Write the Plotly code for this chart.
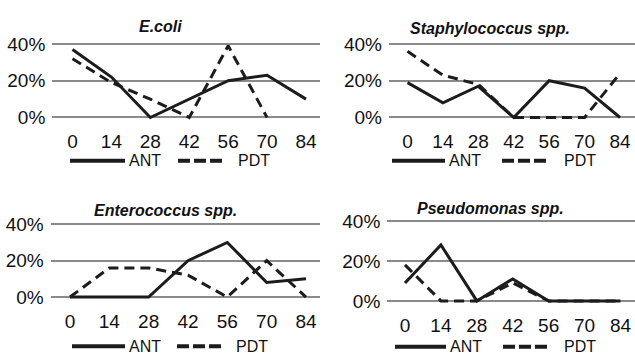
import plotly.graph_objects as go

# ---------------- data ----------------
days = ["0", "14", "28", "42", "56", "70", "84"]
titles = ["E.coli", "Staphylococcus spp.", "Enterococcus spp.", "Pseudomonas spp."]
ecoli_ant = [37, 22, 0, 10, 20, 23, 10]
ecoli_pdt = [32, 19, 10, 0, 39, 0, None]
staph_ant = [19, 8, 17, 0, 20, 16, 0]
staph_pdt = [36, 23, 18, 0, 0, 0, 24]
entero_ant = [0, 0, 0, 20, 30, 8, 10]
entero_pdt = [0, 16, 16, 12, 0, 20, 0]
pseudo_ant = [9, 28, 0, 11, 0, 0, 0]
pseudo_pdt = [18, 0, 0, 9, 0, 0, 0]
series_names = ["ANT", "PDT"]
ytick_vals = [0, 20, 40]
ytick_text = ["0%", "20%", "40%"]

series = [(ecoli_ant, ecoli_pdt), (staph_ant, staph_pdt),
          (entero_ant, entero_pdt), (pseudo_ant, pseudo_pdt)]

# ---------------- layout (pixels) ----------------
W, H = 635, 363
# x0,x1: plot extents; c0,c6: centres of first/last category; y0,y40: pixel rows of 0% and 40%
geo = [
    dict(x0=52.3, x1=320, c0=72.5, c6=306, y0=115.3, y40=39.3, tx=160, ty=21, ly=160,
         lsol=(70, 125), lant=127, ldash=(178, 222), lpdt=236),
    dict(x0=389, x1=635, c0=407.5, c6=620, y0=115.3, y40=39.3, tx=490, ty=23, ly=160,
         lsol=(392, 445), lant=447, ldash=(502, 546), lpdt=562),
    dict(x0=50.7, x1=320, c0=70, c6=306, y0=301, y40=225.7, tx=165, ty=211, ly=352,
         lsol=(72, 125), lant=127, ldash=(177, 222), lpdt=234),
    dict(x0=387.3, x1=635, c0=405, c6=620.5, y0=305, y40=222.3, tx=490, ty=209, ly=352.5,
         lsol=(395, 446), lant=448, ldash=(503, 548), lpdt=562),
]

TXT = "#111111"
LINE = "#1c1c1c"
SANS = "Liberation Sans, Arial, sans-serif"

fig = go.Figure()
shapes, annotations = [], []
ylo, yhi = -2.5, 42.5

for i, (g, (ant, pdt)) in enumerate(zip(geo, series)):
    sfx = "" if i == 0 else str(i + 1)
    xa, ya = "x" + sfx, "y" + sfx
    for vals, name, dash in ((pdt, series_names[1], "10px,6px"), (ant, series_names[0], "solid")):
        fig.add_trace(go.Scatter(x=days, y=vals, mode="lines", name=name, showlegend=False,
                                 xaxis=xa, yaxis=ya, connectgaps=False,
                                 line=dict(color=LINE, width=3, dash=dash)))
    step = (g["c6"] - g["c0"]) / 6
    xr = [(g["x0"] - g["c0"]) / step, (g["x1"] - g["c0"]) / step]
    ppu = (g["y0"] - g["y40"]) / 40.0
    ytop = g["y40"] - (yhi - 40) * ppu
    ybot = g["y0"] + (0 - ylo) * ppu
    fig.update_layout(**{
        "xaxis" + sfx: dict(domain=[g["x0"] / W, g["x1"] / W], anchor=ya, type="category",
                            range=xr, showgrid=False, zeroline=False, showline=False,
                            ticks="", ticklabelstandoff=6,
                            tickfont=dict(family=SANS, size=19, color=TXT)),
        "yaxis" + sfx: dict(domain=[1 - ybot / H, 1 - ytop / H], anchor=xa, range=[ylo, yhi],
                            tickvals=ytick_vals, ticktext=ytick_text, showgrid=True,
                            gridcolor="#8a8a8a", gridwidth=2, zeroline=False, showline=False,
                            ticks="", ticklabelstandoff=6,
                            tickfont=dict(family=SANS, size=19, color=TXT)),
    })
    # subplot title
    annotations.append(dict(text="<b><i>%s</i></b>" % titles[i], x=g["tx"] / W, y=1 - g["ty"] / H,
                             xref="paper", yref="paper", showarrow=False, xanchor="center",
                             yanchor="middle", font=dict(family=SANS, size=16, color=TXT)))
    # legend keys
    ly = 1 - g["ly"] / H
    shapes.append(dict(type="line", xref="paper", yref="paper", x0=g["lsol"][0] / W,
                       x1=g["lsol"][1] / W, y0=ly, y1=ly, line=dict(color=LINE, width=4)))
    shapes.append(dict(type="line", xref="paper", yref="paper", x0=g["ldash"][0] / W,
                       x1=g["ldash"][1] / W, y0=ly, y1=ly,
                       line=dict(color=LINE, width=4, dash="12px,4px")))
    for txt, lx in ((series_names[0], g["lant"]), (series_names[1], g["lpdt"])):
        annotations.append(dict(text=txt, x=lx / W, y=ly, xref="paper", yref="paper",
                                showarrow=False, xanchor="left", yanchor="middle",
                                font=dict(family=SANS, size=16, color=TXT)))

fig.update_layout(width=W, height=H, margin=dict(l=0, r=0, t=0, b=0),
                  paper_bgcolor="white", plot_bgcolor="white",
                  shapes=shapes, annotations=annotations, showlegend=False)
fig.write_html("out.html")
